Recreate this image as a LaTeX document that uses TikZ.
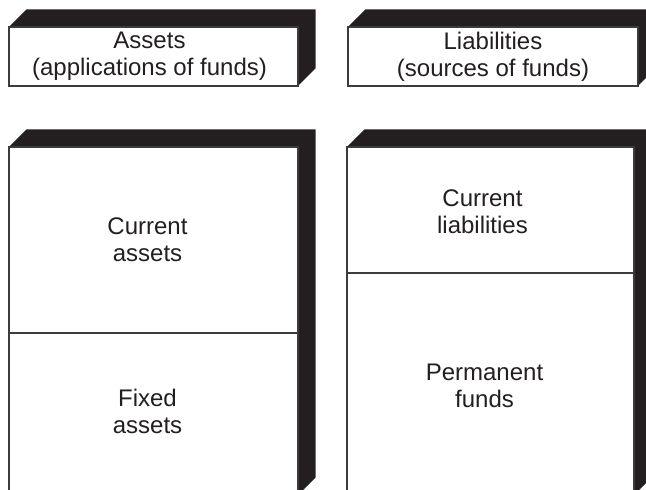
\documentclass[tikz,border=0pt]{standalone}
\usepackage{fontspec}
\setmainfont{Liberation Sans}
\usetikzlibrary{backgrounds}
\definecolor{ink}{HTML}{231F20}
\definecolor{edgegrey}{HTML}{3C3C3C}
\begin{document}
\begin{tikzpicture}[x=1pt,y=1pt,
  face/.style={draw=edgegrey, line width=1.4pt, fill=white, inner sep=0pt,
    outer sep=0pt, anchor=north west},
  caption/.style={font=\fontsize{24}{27}\selectfont, align=center, text=ink,
    inner sep=0pt},
  extrude/.style={fill=ink}]
\def\dep{17.5}
\useasboundingbox (0,0) rectangle (646,490);
\clip (0,0) rectangle (646,490);

% header boxes
\node[face, minimum width=289pt, minimum height=59pt] (assets) at (9,463) {};
\node[face, minimum width=290pt, minimum height=59pt] (liab) at (348,463) {};
\node[caption] (assetsT) at ([xshift=-4pt]assets.center) {Assets\\(applications of funds)};
\node[caption] (liabT) at (liab.center) {Liabilities\\(sources of funds)};

% balance sheet columns
\node[face, minimum width=289pt, minimum height=186pt] (ca) at (9,343) {};
\node[face, minimum width=289pt, minimum height=162pt] (fa) at (9,157) {};
\node[face, minimum width=287pt, minimum height=126pt] (cl) at (347,343) {};
\node[face, minimum width=287pt, minimum height=222pt] (pf) at (347,217) {};

\node[caption] (caT) at ([xshift=-6pt]ca.center) {Current\\assets};
\node[caption] (faT) at ([xshift=-6pt,yshift=3pt]fa.center) {Fixed\\assets};
\node[caption] (clT) at ([xshift=-8pt,yshift=-2pt]cl.center) {Current\\liabilities};
\node[caption] (pfT) at ([xshift=-6pt,yshift=-2pt]pf.center) {Permanent\\funds};

% solid top and right faces behind each block
\begin{scope}[on background layer]
  \foreach \t/\b in {assets/assets, liab/liab, ca/fa, cl/pf} {
    \fill[extrude] (\t.north west) -- ++(\dep,\dep)
      -- ([shift={(\dep,\dep)}]\t.north east)
      -- ([shift={(\dep,\dep)}]\b.south east)
      -- (\b.south east) -- (\t.north east) -- cycle;
  }
\end{scope}
\end{tikzpicture}
\end{document}
